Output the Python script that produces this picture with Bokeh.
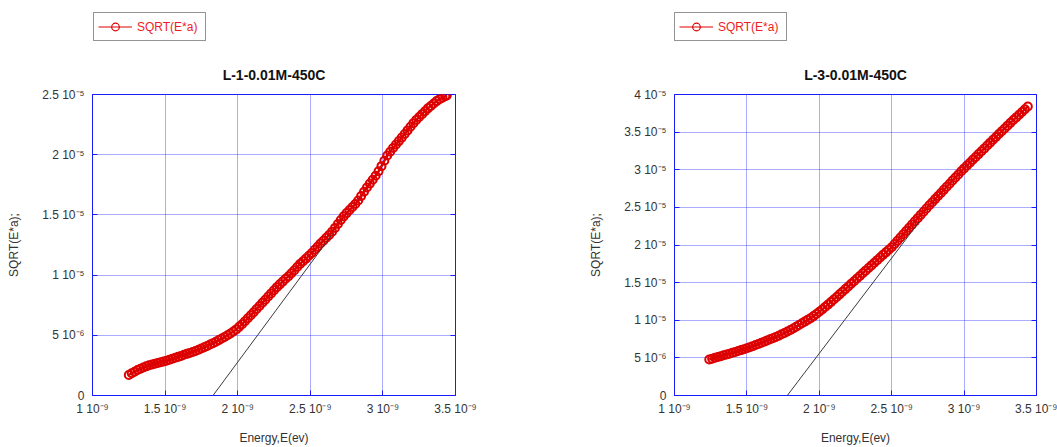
from bokeh.plotting import figure
from bokeh.layouts import row, column
from bokeh.models import (FixedTicker, Legend, LegendItem, LinearAxis,
                          CustomJSTickFormatter, Range1d)
from bokeh.embed import file_html
from bokeh.resources import INLINE

# ---------------- data (energy in units of 1e-9, SQRT(E*a) in units of 1e-6) ----------------
E_SCALE = 1e-9
Y_SCALE = 1e-6

L1_TITLE = "L-1-0.01M-450C"
L1_ENERGY = [1.25, 1.27, 1.29, 1.31, 1.33, 1.35, 1.37, 1.39, 1.41, 1.43, 1.45, 1.47, 1.49, 1.51,
             1.53, 1.55, 1.57, 1.59, 1.61, 1.63, 1.65, 1.67, 1.69, 1.71, 1.73, 1.75, 1.77, 1.79,
             1.81, 1.83, 1.85, 1.87, 1.89, 1.91, 1.93, 1.95, 1.97, 1.99, 2.01, 2.03, 2.05, 2.07,
             2.09, 2.11, 2.13, 2.15, 2.17, 2.19, 2.21, 2.23, 2.25, 2.27, 2.29, 2.31, 2.33, 2.35,
             2.37, 2.39, 2.41, 2.43, 2.45, 2.47, 2.49, 2.51, 2.53, 2.55, 2.57, 2.59, 2.61, 2.63,
             2.65, 2.67, 2.69, 2.71, 2.73, 2.75, 2.77, 2.79, 2.81, 2.83, 2.85, 2.87, 2.89, 2.91,
             2.93, 2.95, 2.97, 2.99, 3.01, 3.03, 3.05, 3.07, 3.09, 3.11, 3.13, 3.15, 3.17, 3.19,
             3.21, 3.23, 3.25, 3.27, 3.29, 3.31, 3.33, 3.35, 3.37, 3.39, 3.41, 3.43, 3.44]
L1_SQRT = [1.70, 1.85, 1.98, 2.12, 2.22, 2.32, 2.42, 2.51, 2.58, 2.64, 2.70, 2.76, 2.82, 2.89,
           2.97, 3.05, 3.13, 3.21, 3.29, 3.38, 3.46, 3.54, 3.62, 3.70, 3.80, 3.91, 4.01, 4.12,
           4.24, 4.35, 4.47, 4.60, 4.73, 4.86, 5.00, 5.15, 5.31, 5.49, 5.70, 5.92, 6.16, 6.41,
           6.66, 6.92, 7.18, 7.44, 7.70, 7.96, 8.22, 8.48, 8.74, 9.00, 9.23, 9.46, 9.69, 9.91,
           10.15, 10.41, 10.67, 10.93, 11.15, 11.37, 11.60, 11.84, 12.10, 12.36, 12.62, 12.86, 13.10, 13.34,
           13.61, 13.92, 14.24, 14.58, 14.88, 15.15, 15.40, 15.65, 15.90, 16.20, 16.56, 16.92, 17.28, 17.60,
           17.92, 18.25, 18.62, 19.05, 19.50, 19.94, 20.25, 20.55, 20.84, 21.13, 21.42, 21.72, 22.02, 22.32,
           22.62, 22.89, 23.13, 23.37, 23.61, 23.85, 24.05, 24.25, 24.45, 24.60, 24.74, 24.86, 24.93]
L1_FIT_ENERGY = [1.83, 2.654]
L1_FIT_SQRT = [0.0, 13.44]

L3_TITLE = "L-3-0.01M-450C"
L3_ENERGY = [1.24, 1.26, 1.28, 1.30, 1.32, 1.34, 1.36, 1.38, 1.40, 1.42, 1.44, 1.46, 1.48, 1.50,
             1.52, 1.54, 1.56, 1.58, 1.60, 1.62, 1.64, 1.66, 1.68, 1.70, 1.72, 1.74, 1.76, 1.78,
             1.80, 1.82, 1.84, 1.86, 1.88, 1.90, 1.92, 1.94, 1.96, 1.98, 2.00, 2.02, 2.04, 2.06,
             2.08, 2.10, 2.12, 2.14, 2.16, 2.18, 2.20, 2.22, 2.24, 2.26, 2.28, 2.30, 2.32, 2.34,
             2.36, 2.38, 2.40, 2.42, 2.44, 2.46, 2.48, 2.50, 2.52, 2.54, 2.56, 2.58, 2.60, 2.62,
             2.64, 2.66, 2.68, 2.70, 2.72, 2.74, 2.76, 2.78, 2.80, 2.82, 2.84, 2.86, 2.88, 2.90,
             2.92, 2.94, 2.96, 2.98, 3.00, 3.02, 3.04, 3.06, 3.08, 3.10, 3.12, 3.14, 3.16, 3.18,
             3.20, 3.22, 3.24, 3.26, 3.28, 3.30, 3.32, 3.34, 3.36, 3.38, 3.40, 3.42, 3.44]
L3_SQRT = [4.78, 4.90, 5.01, 5.12, 5.23, 5.34, 5.45, 5.56, 5.67, 5.79, 5.91, 6.03, 6.16, 6.29,
           6.42, 6.56, 6.70, 6.85, 7.00, 7.16, 7.32, 7.47, 7.62, 7.78, 7.95, 8.13, 8.31, 8.50,
           8.70, 8.91, 9.13, 9.36, 9.59, 9.82, 10.05, 10.28, 10.55, 10.83, 11.12, 11.43, 11.75, 12.08,
           12.41, 12.75, 13.09, 13.44, 13.79, 14.14, 14.49, 14.84, 15.19, 15.54, 15.89, 16.24, 16.59, 16.94,
           17.29, 17.64, 17.99, 18.34, 18.69, 19.02, 19.36, 19.70, 20.13, 20.56, 20.99, 21.42, 21.85, 22.28,
           22.71, 23.14, 23.57, 24.00, 24.43, 24.86, 25.28, 25.69, 26.10, 26.51, 26.92, 27.33, 27.74, 28.15,
           28.56, 28.97, 29.38, 29.79, 30.18, 30.56, 30.94, 31.32, 31.70, 32.08, 32.46, 32.84, 33.22, 33.60,
           33.98, 34.36, 34.74, 35.12, 35.49, 35.86, 36.23, 36.60, 36.96, 37.32, 37.68, 38.04, 38.40]
L3_FIT_ENERGY = [1.779, 2.689]
L3_FIT_SQRT = [0.0, 23.06]

SERIES_NAME = "SQRT(E*a)"
X_LABEL = "Energy,E(ev)"
Y_LABEL = "SQRT(E*a);"

X_TICKS = [1.0e-9, 1.5e-9, 2.0e-9, 2.5e-9, 3.0e-9, 3.5e-9]
X_TICK_LABELS = ["1 10\u207b\u2079", "1.5 10\u207b\u2079", "2 10\u207b\u2079",
                 "2.5 10\u207b\u2079", "3 10\u207b\u2079", "3.5 10\u207b\u2079"]
Y_TICKS = [0.0, 5e-6, 1.0e-5, 1.5e-5, 2.0e-5, 2.5e-5, 3.0e-5, 3.5e-5, 4.0e-5]
Y_TICK_LABELS = ["0", "5 10\u207b\u2076", "1 10\u207b\u2075", "1.5 10\u207b\u2075",
                 "2 10\u207b\u2075", "2.5 10\u207b\u2075", "3 10\u207b\u2075",
                 "3.5 10\u207b\u2075", "4 10\u207b\u2075"]
L1_YMAX = 2.5e-5
L3_YMAX = 4.0e-5

# ---------------- styling ----------------
FONT = "Liberation Sans"
RED = "#dd0000"
BLUE = "#1a1aff"
GRID = "#4646ff"
LEGEND_H = 50

LOOKUP_JS = """
let best = 0, bd = Infinity;
for (let i = 0; i < tvals.length; i++) {
  const d = Math.abs(tvals[i] - tick);
  if (d < bd) { bd = d; best = i; }
}
return tlabels[best];
"""


def lookup_formatter(tick_values, tick_labels):
    return CustomJSTickFormatter(args=dict(tvals=tick_values, tlabels=tick_labels), code=LOOKUP_JS)


def style_axis(ax, show_labels):
    ax.axis_line_color = BLUE
    ax.major_tick_line_color = BLUE
    ax.minor_tick_line_color = None
    ax.major_tick_in = 5
    ax.major_tick_out = 0
    if show_labels:
        ax.major_label_text_font = FONT
        ax.major_label_text_font_size = "12px"
        ax.major_label_text_color = "#333333"
        ax.axis_label_text_font = FONT
        ax.axis_label_text_font_size = "12px"
        ax.axis_label_text_font_style = "normal"
        ax.axis_label_text_color = "#333333"
    else:
        ax.major_label_text_font_size = "0px"
        ax.major_label_standoff = 0


def make_plot(title, xs, ys, fit_x, fit_y, ymax, border_left, border_right, frame_w):
    x = [v * E_SCALE for v in xs]
    y = [v * Y_SCALE for v in ys]
    fx = [v * E_SCALE for v in fit_x]
    fy = [v * Y_SCALE for v in fit_y]
    yt = [t for t in Y_TICKS if t <= ymax * 1.0001]
    ylab = Y_TICK_LABELS[:len(yt)]

    p = figure(frame_width=frame_w, frame_height=301,
               x_range=Range1d(X_TICKS[0], X_TICKS[-1]), y_range=Range1d(0, ymax),
               output_backend="svg", toolbar_location=None,
               min_border_left=border_left, min_border_right=border_right,
               min_border_top=94 - LEGEND_H, min_border_bottom=52,
               title=title, x_axis_label=X_LABEL, y_axis_label=Y_LABEL)
    p.title.align = "center"
    p.title.text_font = FONT
    p.title.text_font_size = "14px"
    p.title.text_font_style = "bold"
    p.title.text_color = "#111111"
    p.title.standoff = 24
    p.outline_line_color = BLUE
    p.outline_line_width = 1
    p.background_fill_color = "white"
    p.border_fill_color = "white"

    p.xaxis.ticker = FixedTicker(ticks=X_TICKS)
    p.xaxis.formatter = lookup_formatter(X_TICKS, X_TICK_LABELS)
    p.yaxis.ticker = FixedTicker(ticks=yt)
    p.yaxis.formatter = lookup_formatter(yt, ylab)
    for ax in p.xaxis:
        style_axis(ax, True)
        ax.major_label_standoff = 6
        ax.axis_label_standoff = 12
    for ax in p.yaxis:
        style_axis(ax, True)
        ax.major_label_standoff = 8
        ax.axis_label_standoff = 18

    right_ax = LinearAxis(ticker=FixedTicker(ticks=yt),
                          formatter=lookup_formatter(yt, [""] * len(yt)))
    style_axis(right_ax, False)
    p.add_layout(right_ax, "right")

    p.xgrid.ticker = FixedTicker(ticks=X_TICKS)
    p.ygrid.ticker = FixedTicker(ticks=yt)
    for g in (p.xgrid, p.ygrid):
        g.grid_line_color = GRID
        g.grid_line_dash = "1 1"
        g.grid_line_width = 1
        g.grid_line_alpha = 0.9

    p.line(x, y, line_color=RED, line_width=2.5)
    p.scatter(x, y, marker="circle", size=8, line_color=RED, line_width=2.0,
              fill_color=None)
    p.line(fx, fy, line_color="#3a3a3a", line_width=1)
    return p


def make_legend_strip(xs, ys, total_w, offset_x):
    # strip above the chart holding the series key; the series is drawn here
    # outside the strip's visible range so that the key shows its real styles
    q = figure(frame_width=total_w, frame_height=LEGEND_H,
               x_range=Range1d(10, 11), y_range=Range1d(10, 11),
               output_backend="svg", toolbar_location=None,
               min_border_left=0, min_border_right=0, min_border_top=0, min_border_bottom=0)
    q.axis.visible = False
    q.grid.visible = False
    q.outline_line_color = None
    q.background_fill_color = "white"
    q.border_fill_color = "white"
    x = [v * E_SCALE for v in xs]
    y = [v * Y_SCALE for v in ys]
    ln = q.line(x, y, line_color=RED, line_width=1.0)
    sc = q.scatter(x, y, marker="circle", size=6, line_color=RED, line_width=1.2,
                   fill_color=None)
    legend = Legend(items=[LegendItem(label=SERIES_NAME, renderers=[ln, sc])],
                    location=(offset_x, LEGEND_H - 14 - 27))
    legend.border_line_color = "#2a2a2a"
    legend.border_line_width = 1
    legend.background_fill_color = "white"
    legend.background_fill_alpha = 1.0
    legend.label_text_font = FONT
    legend.label_text_font_size = "12px"
    legend.label_text_color = "#ee1c25"
    legend.glyph_width = 34
    legend.glyph_height = 19
    legend.label_height = 19
    legend.label_width = 64
    legend.label_standoff = 5
    legend.padding = 4
    legend.spacing = 0
    legend.margin = 0
    q.add_layout(legend)
    return q


p1 = make_plot(L1_TITLE, L1_ENERGY, L1_SQRT, L1_FIT_ENERGY, L1_FIT_SQRT, L1_YMAX, 92, 73, 363)
p2 = make_plot(L3_TITLE, L3_ENERGY, L3_SQRT, L3_FIT_ENERGY, L3_FIT_SQRT, L3_YMAX, 146, 21, 362)
k1 = make_legend_strip(L1_ENERGY, L1_SQRT, 528, 93)
k2 = make_legend_strip(L3_ENERGY, L3_SQRT, 529, 146)

layout = column(row(k1, k2), row(p1, p2))
open("out.html", "w").write(file_html(layout, INLINE))
